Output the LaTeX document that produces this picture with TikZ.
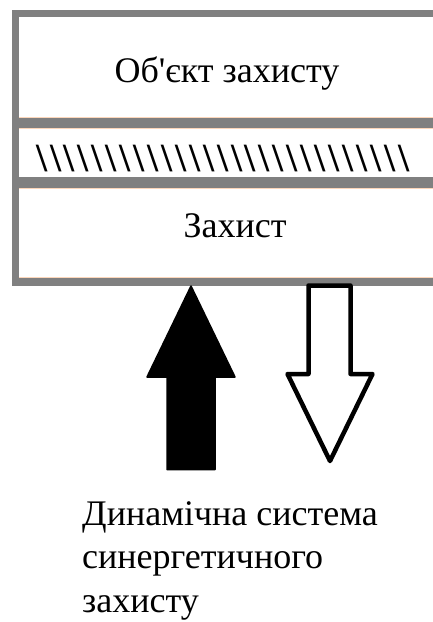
\documentclass[tikz,border=0pt]{standalone}
\usepackage{fontspec}
% plain family: no TeX ligature mapping, so ' stays a straight apostrophe
\newfontfamily\plainserif{Liberation Serif}
\definecolor{framegray}{RGB}{128,128,128}
\definecolor{edgeorange}{RGB}{252,214,186}
\tikzset{
  bar/.style={fill=framegray, draw=none},
  edge/.style={draw=edgeorange, line width=0.8pt},
  label/.style={inner sep=0pt, font=\plainserif\fontsize{36}{43.5}\selectfont},
  solidarrow/.style={fill=black, draw=black, line width=1.5pt, line join=round},
  hollowarrow/.style={fill=white, draw=black, line width=4.5pt, line join=round}
}
\begin{document}
\begin{tikzpicture}[x=1pt, y=-1pt]
  \useasboundingbox (0,0) rectangle (433,622);
  % frame, open on the right
  \fill[bar] (11.5,9.5) rectangle (19,285.5);
  \fill[bar] (11.5,9.5) rectangle (433,17);
  \fill[bar] (19,117.5) rectangle (433,128.5);
  \fill[bar] (19,177) rectangle (433,188.5);
  \fill[bar] (11.5,277.5) rectangle (433,285.5);
  % thin orange edges along the inner bars
  \draw[edge] (19,117.5) -- (433,117.5);
  \draw[edge] (19,128.5) -- (433,128.5);
  \draw[edge] (19,188.5) -- (433,188.5);
  \draw[edge] (19,277.5) -- (433,277.5);
  % box labels
  \node[label, anchor=base] (obj) at (227,82) {Об'єкт захисту};
  \node[inner sep=0pt, anchor=base west, font=\plainserif\fontsize{40}{48}\selectfont\bfseries\addfontfeature{LetterSpace=7}]
    (hatch) at (36,171) {\textbackslash\textbackslash\textbackslash\textbackslash\textbackslash\textbackslash\textbackslash\textbackslash\textbackslash\textbackslash\textbackslash\textbackslash\textbackslash\textbackslash\textbackslash\textbackslash\textbackslash\textbackslash\textbackslash\textbackslash\textbackslash\textbackslash\textbackslash\textbackslash\textbackslash\textbackslash\textbackslash};
  \node[label, anchor=base] (prot) at (235,237) {Захист};
  % upward solid arrow
  \draw[solidarrow] (167,469.5) -- (167,377) -- (147,377) -- (191,286)
    -- (235,377) -- (215,377) -- (215,469.5) -- cycle;
  % downward hollow arrow
  \draw[hollowarrow] (308.5,285.5) -- (350.5,285.5) -- (350.5,374) -- (372.5,374)
    -- (330,461) -- (287.5,374) -- (308.5,374) -- cycle;
  % caption
  \node[label, anchor=north west, align=left] (dyn) at (82,501)
    {Динамічна система\\синергетичного\\захисту};
\end{tikzpicture}
\end{document}
